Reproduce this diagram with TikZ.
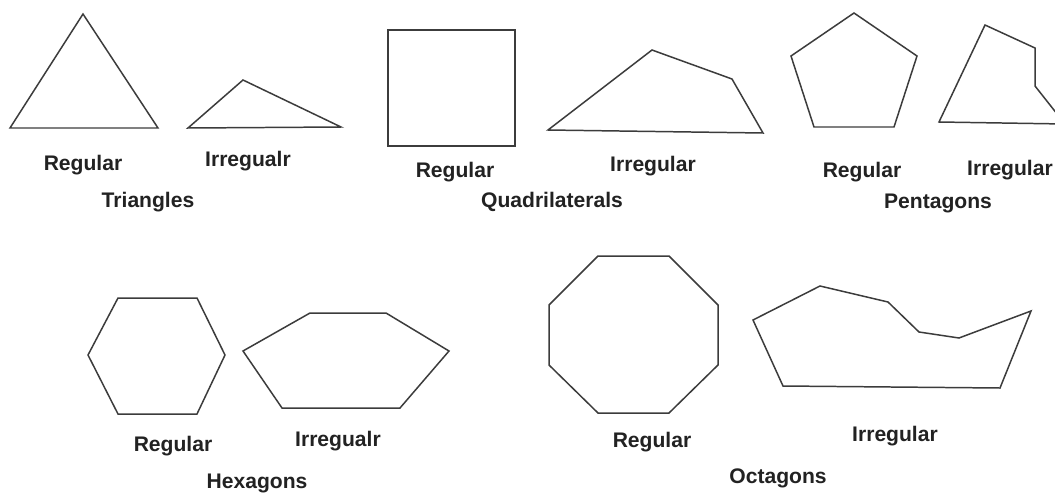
\documentclass[tikz,border=0pt]{standalone}
\usepackage{fontspec}
\setmainfont{Liberation Sans}
\usetikzlibrary{positioning}
\definecolor{edgeGray}{HTML}{3C3C3C}
\definecolor{labelInk}{HTML}{222222}
\tikzset{
  outline/.style={draw=edgeGray, line width=0.85pt, line join=miter},
  kind/.style={font=\fontsize{12}{14}\selectfont\bfseries, text=labelInk, inner sep=0pt},
  family/.style={font=\fontsize{12}{14}\selectfont\bfseries, text=labelInk, inner sep=0pt},
}

\begin{document}
\begin{tikzpicture}[x=0.02cm, y=-0.02cm]
\clip (0,0) rectangle (1055,494);
\fill[white] (0,0) rectangle (1055,494);

% triangles
\draw[outline] (83,14) -- (158,128) -- (10,128) -- cycle;
\draw[outline] (243,80) -- (341,127) -- (188,128) -- cycle;
\node[kind] (triReg) at (83,165) {Regular};
\node[kind] (triIrr) at (248,161) {Irregualr};
\node[family] (tri) at (148,202) {Triangles};

% quadrilaterals
\draw[outline] (388,30) rectangle (515,146);
\draw[outline] (548,130) -- (652,50) -- (732,79) -- (763,133) -- cycle;
\node[kind] (quadReg) at (455,172) {Regular};
\node[kind] (quadIrr) at (653,166) {Irregular};
\node[family] (quad) at (552,202) {Quadrilaterals};

% pentagons
\draw[outline] (854,13) -- (917,56) -- (894,127) -- (814,127) -- (791,56) -- cycle;
\draw[outline] (985,25) -- (1035,48) -- (1035,86) -- (1065,124) -- (939,122) -- cycle;
\node[kind] (pentReg) at (862,172) {Regular};
\node[kind] (pentIrr) at (1010,170) {Irregular};
\node[family] (pent) at (938,203) {Pentagons};

% hexagons
\draw[outline] (118,298) -- (197,298) -- (225,355) -- (197,414) -- (118,414) -- (88,355) -- cycle;
\draw[outline] (310,313) -- (386,313) -- (449,351) -- (400,408) -- (282,408) -- (243,351) -- cycle;
\node[kind] (hexReg) at (173,446) {Regular};
\node[kind] (hexIrr) at (338,441) {Irregualr};
\node[family] (hex) at (257,483) {Hexagons};

% octagons
\draw[outline] (598,256) -- (669,256) -- (718,305) -- (718,365) -- (669,413) -- (598,413) -- (549,365) -- (549,305) -- cycle;
\draw[outline] (753,320) -- (820,286) -- (888,302) -- (919,332) -- (959,338) -- (1031,311) -- (1000,388) -- (783,386) -- cycle;
\node[kind] (octReg) at (652,442) {Regular};
\node[kind] (octIrr) at (895,436) {Irregular};
\node[family] (oct) at (778,478) {Octagons};

\end{tikzpicture}
\end{document}
